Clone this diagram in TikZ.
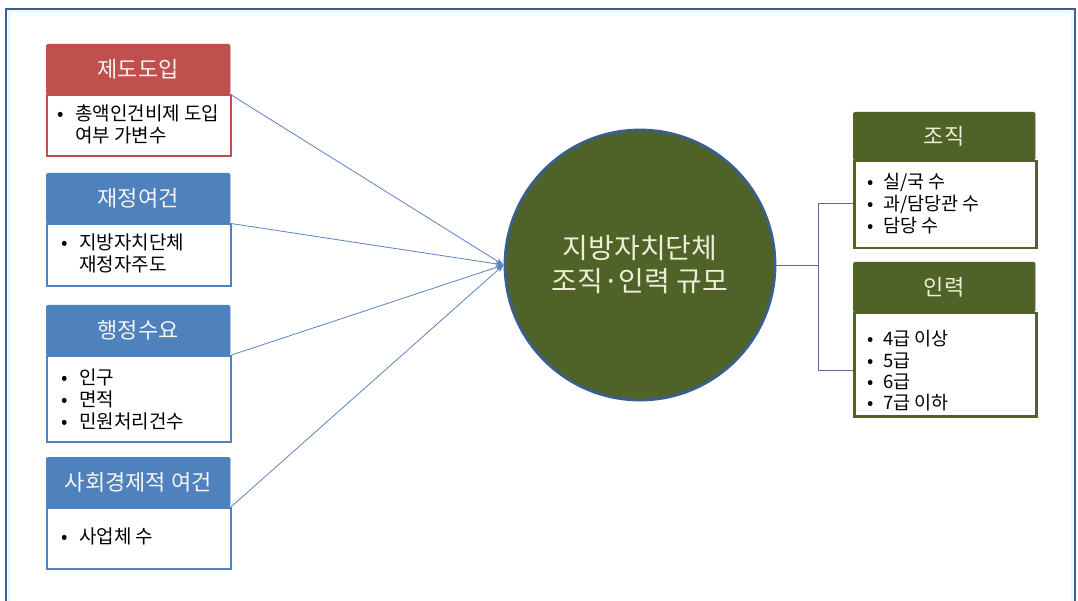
\documentclass[tikz,border=0pt]{standalone}
\usepackage{fontspec}
\setmainfont{Noto Sans CJK KR}
\usetikzlibrary{arrows.meta,calc}
\definecolor{redc}{HTML}{C0504D}
\definecolor{bluec}{HTML}{4F81BD}
\definecolor{greenc}{HTML}{4F6228}
\definecolor{circb}{HTML}{3A5F8F}
\definecolor{framec}{HTML}{3B5E8C}
\definecolor{arrc}{HTML}{5B83C0}
\definecolor{connc}{HTML}{5A6F8F}
\definecolor{lightc}{HTML}{F4F4F0}
\definecolor{creamc}{HTML}{EEEED8}
\newcommand{\hdrfont}{\fontsize{22}{26}\selectfont}
\newcommand{\bodyfont}{\fontsize{19}{20.5}\selectfont}
\newcommand{\rbodyfont}{\fontsize{18.5}{21.2}\selectfont}
\newcommand{\bl}{\makebox[18pt][l]{•}}
\newcommand{\rbl}{\makebox[16pt][l]{•}}
\tikzset{
  hdr/.style={draw=#1, fill=#1, rounded corners=1.5pt, minimum width=184pt, minimum height=50pt,
    inner sep=0pt, text=lightc, font=\hdrfont, anchor=north west},
  bodybox/.style={draw=#1, line width=2pt, fill=white, minimum width=184pt,
    inner sep=0pt, anchor=north west},
  bodytext/.style={inner sep=0pt, anchor=west, font=\bodyfont, align=left},
  rbodytext/.style={inner sep=0pt, anchor=west, font=\rbodyfont, align=left},
  arr/.style={draw=arrc, line width=0.8pt, -{Stealth[length=8pt,width=6pt]}},
  conn/.style={draw=connc, line width=0.9pt}
}
\begin{document}
\begin{tikzpicture}[x=1pt,y=-1pt]
\clip (0,0) rectangle (1078,601);
\fill[white] (0,0) rectangle (1078,601);
% frame
\draw[draw=framec, line width=2.5pt] (6,9) rectangle (1075,640);
\draw[draw=cyan!8, line width=1.5pt] (9,12) rectangle (1072,640);
% left boxes
\node[bodybox=redc, minimum height=61pt] (b1) at (46,94) {};
\node[hdr=redc] (h1) at (46,44) {제도도입};
\node[bodytext] (t1) at (57,127)
  {\begin{tabular}{@{}l@{}l@{}}\bl & 총액인건비제 도입\\ & 여부 가변수\end{tabular}};
\node[bodybox=bluec, minimum height=62pt] (b2) at (46,223) {};
\node[hdr=bluec] (h2) at (46,173) {재정여건};
\node[bodytext] (t2) at (61,256)
  {\begin{tabular}{@{}l@{}l@{}}\bl & 지방자치단체\\ & 재정자주도\end{tabular}};
\node[bodybox=bluec, minimum height=86pt] (b3) at (46,355) {};
\node[hdr=bluec] (h3) at (46,305) {행정수요};
\node[bodytext] (t3) at (61,402)
  {\begin{tabular}{@{}l@{}l@{}}\bl & 인구\\ \bl & 면적\\ \bl & 민원처리건수\end{tabular}};
\node[bodybox=bluec, minimum height=61pt] (b4) at (46,507) {};
\node[hdr=bluec] (h4) at (46,457) {사회경제적 여건};
\node[bodytext] (t4) at (61,539)
  {\begin{tabular}{@{}l@{}l@{}}\bl & 사업체 수\end{tabular}};
% circle
\node[circle, draw=circb, line width=2.8pt, fill=greenc, minimum size=270pt, inner sep=0pt,
  text=creamc, align=center, font=\fontsize{28}{33}\selectfont] (c) at (640,265)
  {지방자치단체\\조직·인력 규모};
% arrows
\draw[arr] (h1.south east) -- (c.west);
\draw[arr] (h2.south east) -- (c.west);
\draw[arr] (h3.south east) -- (c.west);
\draw[arr] (h4.south east) -- (c.west);
% right boxes
\node[bodybox=greenc, line width=2.5pt, minimum width=182pt, minimum height=87pt] (b5) at (853,160) {};
\node[hdr=greenc, minimum width=182pt, minimum height=48pt, text=creamc] (h5) at (853,112) {조직};
\node[rbodytext] (t5) at (867,206)
  {\begin{tabular}{@{}l@{}l@{}}\rbl & 실/국 수\\ \rbl & 과/담당관 수\\ \rbl & 담당 수\end{tabular}};
\node[bodybox=greenc, line width=2.5pt, minimum width=182pt, minimum height=103pt] (b6) at (853,312) {};
\node[hdr=greenc, minimum width=182pt, minimum height=50pt, text=creamc] (h6) at (853,262) {인력};
\node[rbodytext] (t6) at (867,373.5)
  {\begin{tabular}{@{}l@{}l@{}}\rbl & 4급 이상\\ \rbl & 5급\\ \rbl & 6급\\ \rbl & 7급 이하\end{tabular}};
% right connectors
\coordinate (j) at (818,265);
\coordinate (e5) at (853,203);
\coordinate (e6) at (853,370);
\draw[conn] (c.east) -- (j);
\draw[conn] (j) |- (e5);
\draw[conn] (j) |- (e6);
\end{tikzpicture}
\end{document}
